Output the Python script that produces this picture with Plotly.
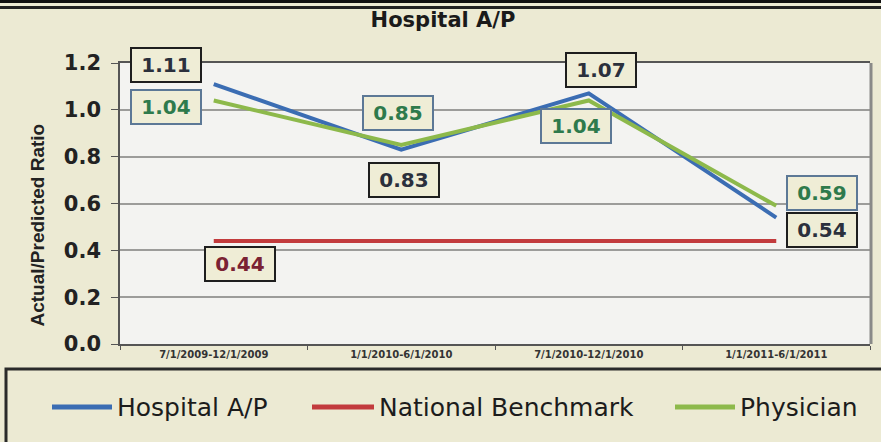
import plotly.graph_objects as go

# ---- data ----
categories = ["7/1/2009-12/1/2009", "1/1/2010-6/1/2010", "7/1/2010-12/1/2010", "1/1/2011-6/1/2011"]
hospital = [1.11, 0.83, 1.07, 0.54]
national = [0.44, 0.44, 0.44, 0.44]
physician = [1.04, 0.85, 1.04, 0.59]
y_ticks = [0.0, 0.2, 0.4, 0.6, 0.8, 1.0, 1.2]
y_tick_labels = ["0.0", "0.2", "0.4", "0.6", "0.8", "1.0", "1.2"]
series_names = ["Hospital A/P", "National Benchmark", "Physician"]

# ---- styles ----
W, H = 881, 442
ML, MR, MT, MB = 120, 11, 63, 98
PW, PH = W - ML - MR, H - MT - MB
BG = "#ECEAD3"
BOX_BG = "#EFEDD6"
C_BLUE = "#3B6DB3"
C_RED = "#C23B3D"
C_GREEN = "#8DB94B"


def px(x):
    return (x - ML) / PW


def py(y):
    return (H - MB - y) / PH


fig = go.Figure()
fig.add_trace(go.Scatter(x=categories, y=national, mode="lines", name=series_names[1],
                         line=dict(color=C_RED, width=4), showlegend=False))
fig.add_trace(go.Scatter(x=categories, y=hospital, mode="lines", name=series_names[0],
                         line=dict(color=C_BLUE, width=4), showlegend=False))
fig.add_trace(go.Scatter(x=categories, y=physician, mode="lines", name=series_names[2],
                         line=dict(color=C_GREEN, width=4), showlegend=False))

annotations = []
hosp_off = [(-48, 19), (3, -30), (12, 23), (46, -12)]
phys_off = [(-48, -7), (-3, 32), (-13, -26), (46, 13)]


def label(xv, yv, off, txtcol, bcol):
    return dict(x=xv, y=yv, xref="x", yref="y", text=f"{yv:.2f}", showarrow=False,
                xshift=off[0], yshift=off[1], font=dict(family="DejaVu Sans", size=20, color=txtcol, weight="bold"),
                bgcolor=BOX_BG, bordercolor=bcol, borderwidth=2, borderpad=2, width=64, height=28)


for i, c in enumerate(categories):
    annotations.append(label(c, hospital[i], hosp_off[i], "#2B303C", "#1E1E1E"))
    annotations.append(label(c, physician[i], phys_off[i], "#2E7A4C", "#5C7896"))
annotations.append(label(categories[0], national[0], (26, -23), "#7A2233", "#1E1E1E"))

# y-axis title
annotations.append(dict(x=px(25), y=py(225), xref="paper", yref="paper", text="Actual/Predicted Ratio",
                        textangle=-90, showarrow=False,
                        font=dict(family="Liberation Sans", size=19, color="#222", weight="bold")))

# legend (manual)
legend_items = [(52, 112, 115, C_BLUE), (312, 374, 377, C_RED), (675, 735, 738, C_GREEN)]
shapes = []
for name, (x0, x1, xt, col) in zip(series_names, legend_items):
    shapes.append(dict(type="line", xref="paper", yref="paper", x0=px(x0), x1=px(x1), y0=py(407), y1=py(407),
                       line=dict(color=col, width=5)))
    annotations.append(dict(x=px(xt), y=py(407), xref="paper", yref="paper", text=name, showarrow=False,
                            xanchor="left", yanchor="middle",
                            font=dict(family="DejaVu Sans", size=25, color="#1C1C1C")))

# legend box
shapes.append(dict(type="rect", xref="paper", yref="paper", x0=px(6), x1=px(895), y0=py(369), y1=py(460),
                   line=dict(color="#2A2A2A", width=3), fillcolor="rgba(0,0,0,0)"))
# top border bands
shapes.append(dict(type="rect", xref="paper", yref="paper", x0=px(-5), x1=px(890), y0=py(-5), y1=py(3),
                   line=dict(width=0), fillcolor="#111"))
shapes.append(dict(type="rect", xref="paper", yref="paper", x0=px(-5), x1=px(890), y0=py(6), y1=py(9),
                   line=dict(width=0), fillcolor="#222"))
# right-edge shadow of plot frame
shapes.append(dict(type="line", xref="paper", yref="paper", x0=px(871), x1=px(871), y0=0, y1=1,
                   line=dict(color="#8A8A88", width=3)))

fig.update_layout(
    width=W, height=H,
    margin=dict(l=ML, r=MR, t=MT, b=MB),
    paper_bgcolor=BG,
    plot_bgcolor="#F3F3F1",
    title=dict(text="<b>Hospital A/P</b>", x=443 / W, xanchor="center", y=1 - 20 / H, yanchor="middle",
               font=dict(family="DejaVu Sans", size=21, color="#1A1A1A")),
    xaxis=dict(type="category", range=[-0.5, 3.5], showgrid=False, showline=True, mirror=True,
               linecolor="#555", linewidth=1.5, ticks="outside", tickson="boundaries", ticklen=4,
               tickcolor="#555", tickfont=dict(family="DejaVu Sans", size=10, color="#333", weight="bold"),
               zeroline=False, fixedrange=True),
    yaxis=dict(range=[0, 1.2], tickvals=y_ticks, ticktext=y_tick_labels, showgrid=True, gridcolor="#9C9C9A",
               gridwidth=1.5, showline=True, linecolor="#555", linewidth=1.5, ticks="outside", ticklen=7,
               tickcolor="#555", ticklabelstandoff=6,
               tickfont=dict(family="DejaVu Sans", size=21, color="#222", weight="bold"),
               zeroline=False, fixedrange=True),
    annotations=annotations,
    shapes=shapes,
    showlegend=False,
)

fig.write_html("out.html", config={"displayModeBar": False},
               post_script="document.body.style.margin='0';document.body.style.background='" + BG + "';")
